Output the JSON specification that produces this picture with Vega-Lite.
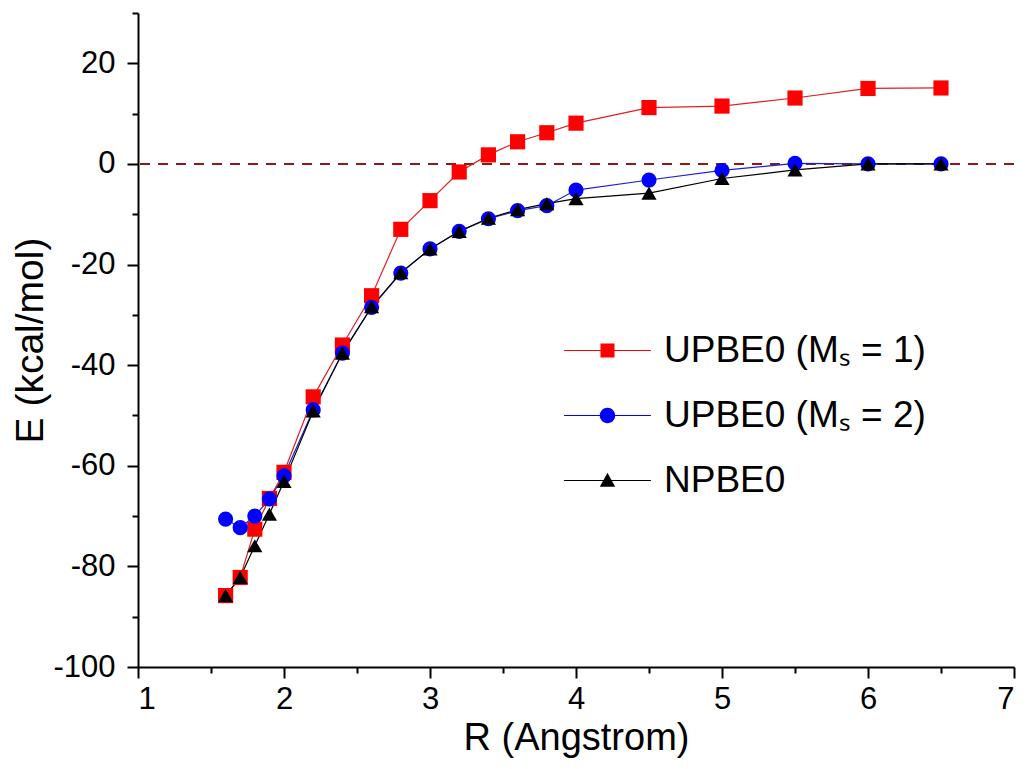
{
  "$schema": "https://vega.github.io/schema/vega-lite/v6.json",
  "width": 876,
  "height": 654,
  "autosize": "none",
  "padding": {"left": 138, "top": 13, "right": 12, "bottom": 102},
  "background": "white",
  "config": {
    "view": {"stroke": null},
    "font": "Liberation Sans",
    "axis": {
      "domainColor": "black", "domainWidth": 2, "tickColor": "black", "tickWidth": 2,
      "labelColor": "black", "titleColor": "black", "labelFont": "Liberation Sans", "titleFont": "Liberation Sans",
      "titleFontWeight": "normal", "grid": false
    },
    "legend": {"labelFont": "Liberation Sans"}
  },
  "data": {
    "values": [
      {"R": 1.6, "E": -85.8, "s": "UPBE0 (Mₛ = 1)"},
      {"R": 1.7, "E": -82.2, "s": "UPBE0 (Mₛ = 1)"},
      {"R": 1.8, "E": -72.6, "s": "UPBE0 (Mₛ = 1)"},
      {"R": 1.9, "E": -66.5, "s": "UPBE0 (Mₛ = 1)"},
      {"R": 2.0, "E": -61.3, "s": "UPBE0 (Mₛ = 1)"},
      {"R": 2.2, "E": -46.3, "s": "UPBE0 (Mₛ = 1)"},
      {"R": 2.4, "E": -36.0, "s": "UPBE0 (Mₛ = 1)"},
      {"R": 2.6, "E": -26.2, "s": "UPBE0 (Mₛ = 1)"},
      {"R": 2.8, "E": -13.0, "s": "UPBE0 (Mₛ = 1)"},
      {"R": 3.0, "E": -7.3, "s": "UPBE0 (Mₛ = 1)"},
      {"R": 3.2, "E": -1.6, "s": "UPBE0 (Mₛ = 1)"},
      {"R": 3.4, "E": 1.8, "s": "UPBE0 (Mₛ = 1)"},
      {"R": 3.6, "E": 4.4, "s": "UPBE0 (Mₛ = 1)"},
      {"R": 3.8, "E": 6.2, "s": "UPBE0 (Mₛ = 1)"},
      {"R": 4.0, "E": 8.1, "s": "UPBE0 (Mₛ = 1)"},
      {"R": 4.5, "E": 11.2, "s": "UPBE0 (Mₛ = 1)"},
      {"R": 5.0, "E": 11.5, "s": "UPBE0 (Mₛ = 1)"},
      {"R": 5.5, "E": 13.1, "s": "UPBE0 (Mₛ = 1)"},
      {"R": 6.0, "E": 15.0, "s": "UPBE0 (Mₛ = 1)"},
      {"R": 6.5, "E": 15.1, "s": "UPBE0 (Mₛ = 1)"},
      {"R": 1.6, "E": -70.6, "s": "UPBE0 (Mₛ = 2)"},
      {"R": 1.7, "E": -72.3, "s": "UPBE0 (Mₛ = 2)"},
      {"R": 1.8, "E": -70.0, "s": "UPBE0 (Mₛ = 2)"},
      {"R": 1.9, "E": -66.6, "s": "UPBE0 (Mₛ = 2)"},
      {"R": 2.0, "E": -62.0, "s": "UPBE0 (Mₛ = 2)"},
      {"R": 2.2, "E": -48.9, "s": "UPBE0 (Mₛ = 2)"},
      {"R": 2.4, "E": -37.6, "s": "UPBE0 (Mₛ = 2)"},
      {"R": 2.6, "E": -28.5, "s": "UPBE0 (Mₛ = 2)"},
      {"R": 2.8, "E": -21.7, "s": "UPBE0 (Mₛ = 2)"},
      {"R": 3.0, "E": -16.9, "s": "UPBE0 (Mₛ = 2)"},
      {"R": 3.2, "E": -13.4, "s": "UPBE0 (Mₛ = 2)"},
      {"R": 3.4, "E": -10.9, "s": "UPBE0 (Mₛ = 2)"},
      {"R": 3.6, "E": -9.3, "s": "UPBE0 (Mₛ = 2)"},
      {"R": 3.8, "E": -8.3, "s": "UPBE0 (Mₛ = 2)"},
      {"R": 4.0, "E": -5.2, "s": "UPBE0 (Mₛ = 2)"},
      {"R": 4.5, "E": -3.2, "s": "UPBE0 (Mₛ = 2)"},
      {"R": 5.0, "E": -1.3, "s": "UPBE0 (Mₛ = 2)"},
      {"R": 5.5, "E": 0.1, "s": "UPBE0 (Mₛ = 2)"},
      {"R": 6.0, "E": 0.0, "s": "UPBE0 (Mₛ = 2)"},
      {"R": 6.5, "E": 0.0, "s": "UPBE0 (Mₛ = 2)"},
      {"R": 1.6, "E": -85.8, "s": "NPBE0"},
      {"R": 1.7, "E": -82.2, "s": "NPBE0"},
      {"R": 1.8, "E": -75.9, "s": "NPBE0"},
      {"R": 1.9, "E": -69.6, "s": "NPBE0"},
      {"R": 2.0, "E": -63.1, "s": "NPBE0"},
      {"R": 2.2, "E": -49.1, "s": "NPBE0"},
      {"R": 2.4, "E": -37.6, "s": "NPBE0"},
      {"R": 2.6, "E": -28.4, "s": "NPBE0"},
      {"R": 2.8, "E": -21.6, "s": "NPBE0"},
      {"R": 3.0, "E": -16.9, "s": "NPBE0"},
      {"R": 3.2, "E": -13.4, "s": "NPBE0"},
      {"R": 3.4, "E": -10.8, "s": "NPBE0"},
      {"R": 3.6, "E": -9.1, "s": "NPBE0"},
      {"R": 3.8, "E": -7.9, "s": "NPBE0"},
      {"R": 4.0, "E": -6.9, "s": "NPBE0"},
      {"R": 4.5, "E": -5.8, "s": "NPBE0"},
      {"R": 5.0, "E": -2.9, "s": "NPBE0"},
      {"R": 5.5, "E": -1.2, "s": "NPBE0"},
      {"R": 6.0, "E": 0.0, "s": "NPBE0"},
      {"R": 6.5, "E": 0.0, "s": "NPBE0"}
    ]
  },
  "layer": [
    {
      "mark": {"type": "rule", "color": "#8b1a1a", "strokeWidth": 2, "strokeDash": [10, 8]},
      "encoding": {"y": {"datum": 0, "type": "quantitative", "axis": null}}
    },
    {
      "mark": {"type": "line", "strokeWidth": 1.2},
      "encoding": {
        "x": {"field": "R", "type": "quantitative", "scale": {"domain": [1, 7], "nice": false, "zero": false},
          "axis": {"orient": "bottom", "values": [1, 2, 3, 4, 5, 6, 7], "labelExpr": "'' + datum.value", "tickSize": 11, "labelFontSize": 31, "labelPadding": 6, "title": "R (Angstrom)", "titleFontSize": 38, "titlePadding": 5}},
        "y": {"field": "E", "type": "quantitative", "scale": {"domain": [-100, 30], "nice": false, "zero": false},
          "axis": {"orient": "left", "values": [-100, -80, -60, -40, -20, 0, 20], "labelExpr": "'' + datum.value", "tickSize": 11, "labelFontSize": 31, "labelPadding": 12, "title": "E (kcal/mol)", "titleFontSize": 39, "titlePadding": 2}},
        "color": {"field": "s", "type": "nominal", "sort": null,
          "scale": {"domain": ["UPBE0 (Mₛ = 1)", "UPBE0 (Mₛ = 2)", "NPBE0"], "range": ["#e02020", "#2020d0", "#000000"]}, "legend": null},
        "detail": {"field": "s"}
      }
    },
    {
      "mark": {"type": "point", "filled": true, "opacity": 1, "size": 230},
      "encoding": {
        "x": {"field": "R", "type": "quantitative", "axis": null},
        "y": {"field": "E", "type": "quantitative", "axis": null},
        "color": {"field": "s", "type": "nominal", "sort": null,
          "scale": {"domain": ["UPBE0 (Mₛ = 1)", "UPBE0 (Mₛ = 2)", "NPBE0"], "range": ["#ff0000", "#0000ff", "#000000"]}, "legend": null},
        "shape": {"field": "s", "type": "nominal", "sort": null,
          "scale": {"domain": ["UPBE0 (Mₛ = 1)", "UPBE0 (Mₛ = 2)", "NPBE0"], "range": ["square", "circle", "triangle-up"]}, "legend": null}
      }
    },
    {
      "transform": [{"filter": "datum.R < 0"}],
      "mark": {"type": "point", "filled": true, "opacity": 1, "size": 196},
      "encoding": {
        "x": {"field": "R", "type": "quantitative",
          "axis": {"orient": "bottom", "values": [1.5, 2.5, 3.5, 4.5, 5.5, 6.5], "labels": false, "domain": false, "tickSize": 6, "title": null}},
        "y": {"field": "E", "type": "quantitative",
          "axis": {"orient": "left", "values": [-90, -70, -50, -30, -10, 10, 30], "labels": false, "domain": false, "tickSize": 6, "title": null}},
        "fill": {"field": "s", "type": "nominal", "sort": null, "title": null,
          "scale": {"domain": ["UPBE0 (Mₛ = 1)", "UPBE0 (Mₛ = 2)", "NPBE0"], "range": ["#ff0000", "#0000ff", "#000000"]},
          "legend": {"orient": "none", "legendX": 451, "legendY": 319, "padding": 0, "symbolSize": 196, "symbolStrokeWidth": 0,
            "labelFontSize": 37, "labelOffset": 38, "rowPadding": 27, "labelColor": "black", "labelLimit": 500}},
        "shape": {"field": "s", "type": "nominal", "sort": null, "title": null,
          "scale": {"domain": ["UPBE0 (Mₛ = 1)", "UPBE0 (Mₛ = 2)", "NPBE0"],
            "range": [
              "M-6.2,-0.07H6.2V0.07H-6.2Z M-1,-1H1V1H-1Z",
              "M-6.2,-0.07H6.2V0.07H-6.2Z M-1.1,0A1.1,1.1 0 1,1 1.1,0A1.1,1.1 0 1,1 -1.1,0Z",
              "M-6.2,-0.07H6.2V0.07H-6.2Z M0,-1.1L1.1,0.9H-1.1Z"
            ]},
          "legend": {"orient": "none", "legendX": 451, "legendY": 319, "padding": 0, "symbolSize": 196, "symbolStrokeWidth": 0,
            "labelFontSize": 37, "labelOffset": 38, "rowPadding": 27, "labelColor": "black", "labelLimit": 500}}
      }
    }
  ],
  "resolve": {"scale": {"shape": "independent", "color": "independent", "fill": "independent"}, "axis": {"x": "independent", "y": "independent"}}
}
